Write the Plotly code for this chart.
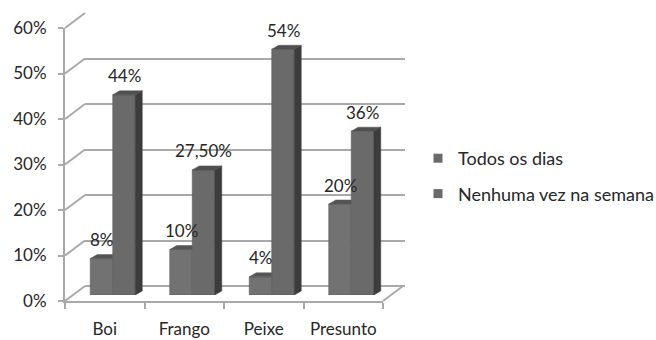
import plotly.graph_objects as go

categories = ["Boi", "Frango", "Peixe", "Presunto"]
series_names = ["Todos os dias", "Nenhuma vez na semana"]
todos = [8, 10, 4, 20]
nenhuma = [44, 27.5, 54, 36]
y_ticks = [0, 10, 20, 30, 40, 50, 60]


def fmt(v):
    return f"{v:.0f}%" if float(v).is_integer() else f"{v:.2f}%".replace(".", ",")


W, H = 656, 340
FONT = "Lato"
TXT = "#262626"
GRID = "#a9a9a9"


def px(x):
    return x / W


def py(y):
    return 1 - y / H


# pixel geometry of the three planes (back wall, bar plane, front axes)
back = dict(x0=85, x1=405, y0=286, y1=13)
mid = dict(x0=73, x1=391, y0=295, y1=22)
front = dict(x0=65, x1=383, y0=301, y1=28)

fig = go.Figure()

# back wall (gridlines) -> subplot 1 (drawn first, underneath)
fig.add_trace(go.Scatter(x=[0], y=[0], mode="none", hoverinfo="skip",
                         showlegend=False, xaxis="x", yaxis="y"))

# bars -> subplot 2
w = 0.283
dx = 7 / ((mid["x1"] - mid["x0"]) / len(categories))
dy = 4 / ((mid["y0"] - mid["y1"]) / 60)
n = len(categories)
idx = list(range(n))
front_cols = ["#727272", "#6a6a6a"]
side_col = "#3c3c3c"
top_cols = ["#555555", "#4f4f4f"]

for s, (vals, name) in enumerate(zip([todos, nenhuma], series_names)):
    xc = [i + (s - 0.5) * w for i in idx]
    # top + side faces
    for i, v in enumerate(vals):
        x0 = xc[i] - w / 2
        x1 = xc[i] + w / 2
        if s == 0:
            tx = [x0, x0 + dx, x1, x1, x0]
            ty = [v, v + dy, v + dy, v, v]
        else:
            tx = [x0, x0 + dx, x1 + dx, x1, x0]
            ty = [v, v + dy, v + dy, v, v]
            fig.add_trace(go.Scatter(
                x=[x1, x1 + dx, x1 + dx, x1, x1], y=[0, dy, v + dy, v, 0],
                fill="toself", fillcolor=side_col, mode="lines",
                line=dict(color=side_col, width=0.5), hoverinfo="skip",
                showlegend=False, xaxis="x2", yaxis="y2"))
        fig.add_trace(go.Scatter(
            x=tx, y=ty, fill="toself", fillcolor=top_cols[s], mode="lines",
            line=dict(color=top_cols[s], width=0.5), hoverinfo="skip",
            showlegend=False, xaxis="x2", yaxis="y2"))
    fig.add_trace(go.Bar(
        x=xc, y=vals, width=w, name=name, showlegend=False,
        marker=dict(color=front_cols[s], line=dict(color="#5a5a5a", width=0.6)),
        xaxis="x2", yaxis="y2"))
    for i, v in enumerate(vals):
        fig.add_annotation(x=xc[i], y=v, xref="x2", yref="y2", text=fmt(v),
                           showarrow=False, yshift=19,
                           font=dict(family=FONT, size=17, color=TXT))

# legend dummies
for s, name in enumerate(series_names):
    fig.add_trace(go.Scatter(
        x=[None], y=[None], mode="markers", name=name,
        marker=dict(symbol="square", size=9, color="#6a6a6a"),
        legendgroup=name, xaxis="x2", yaxis="y2"))

# front axes -> subplot 3
fig.add_trace(go.Scatter(x=categories, y=[0] * n, mode="none", hoverinfo="skip",
                         showlegend=False, xaxis="x3", yaxis="y3"))

# left-wall diagonals and floor edge
shapes = []
sc_f = (front["y0"] - front["y1"]) / 60
sc_b = (back["y0"] - back["y1"]) / 60
for v in y_ticks:
    shapes.append(dict(type="line", xref="paper", yref="paper",
                       x0=px(front["x0"]), y0=py(front["y0"] - v * sc_f),
                       x1=px(back["x0"]), y1=py(back["y0"] - v * sc_b),
                       line=dict(color=GRID, width=2), layer="below"))
shapes.append(dict(type="line", xref="paper", yref="paper",
                   x0=px(front["x1"]), y0=py(front["y0"]),
                   x1=px(back["x1"] - 2), y1=py(back["y0"]),
                   line=dict(color=GRID, width=2), layer="below"))

fig.update_layout(
    width=W, height=H,
    margin=dict(l=0, r=0, t=0, b=0, pad=0, autoexpand=False),
    paper_bgcolor="white",
    plot_bgcolor="rgba(0,0,0,0)",
    barmode="overlay",
    shapes=shapes,
    font=dict(family=FONT, size=17, color=TXT),
    xaxis=dict(domain=[px(back["x0"]), px(back["x1"])], range=[0, 1], visible=False,
               automargin=False),
    yaxis=dict(domain=[py(back["y0"]), py(back["y1"])], range=[0, 60],
               tickvals=y_ticks, showgrid=True, gridcolor=GRID, gridwidth=2,
               zeroline=True, zerolinecolor=GRID, zerolinewidth=2,
               showticklabels=False, showline=False, ticks="", automargin=False),
    xaxis2=dict(domain=[px(mid["x0"]), px(mid["x1"])], range=[-0.5, n - 0.5],
                visible=False, anchor="y2", automargin=False),
    yaxis2=dict(domain=[py(mid["y0"]), py(mid["y1"])], range=[0, 60],
                visible=False, anchor="x2", automargin=False),
    xaxis3=dict(domain=[px(front["x0"]), px(front["x1"])], anchor="y3",
                type="category", categoryorder="array", categoryarray=categories,
                range=[-0.5, n - 0.5], showline=True, linecolor=GRID, linewidth=2,
                ticks="outside", tickson="boundaries", ticklen=6, tickcolor=GRID,
                tickwidth=2, showgrid=False, zeroline=False, automargin=False,
                ticklabelstandoff=12, tickfont=dict(family=FONT, size=17, color=TXT)),
    yaxis3=dict(domain=[py(front["y0"]), py(front["y1"])], anchor="x3",
                range=[0, 60], tickvals=y_ticks, ticktext=[f"{v}%" for v in y_ticks],
                showline=True, linecolor=GRID, linewidth=2, ticks="outside",
                ticklen=5, tickcolor=GRID, tickwidth=2, showgrid=False,
                zeroline=False, ticklabelstandoff=8, automargin=False,
                tickfont=dict(family=FONT, size=17, color=TXT)),
    legend=dict(x=px(418), y=py(140), xanchor="left", yanchor="top",
                font=dict(family=FONT, size=18, color=TXT),
                tracegroupgap=9, bgcolor="rgba(0,0,0,0)"),
)

fig.write_html("out.html")
